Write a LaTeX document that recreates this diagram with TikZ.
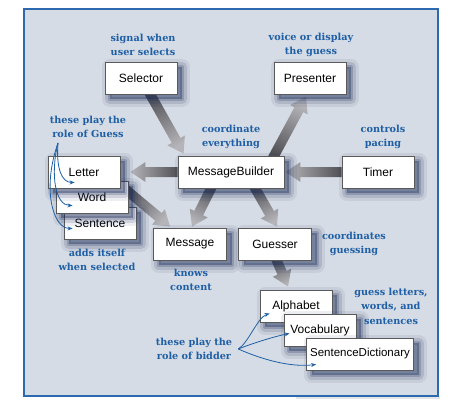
\documentclass[tikz,border=0pt]{standalone}
\usepackage{fontspec}
\setmainfont{Liberation Sans}
\newfontfamily\labelfont{DejaVu Serif}
\usetikzlibrary{shadows,calc,arrows.meta}
\definecolor{panelfill}{RGB}{214,220,229}
\definecolor{panelblue}{RGB}{45,105,175}
\definecolor{labelblue}{RGB}{30,95,165}
\definecolor{boxborder}{RGB}{90,90,90}
\definecolor{shadowcol}{RGB}{30,45,90}
\definecolor{arrowdark}{RGB}{80,80,85}
\definecolor{arrowlight}{RGB}{180,180,185}
\pgfdeclarelayer{panel}
\pgfdeclarelayer{arrows}
\pgfsetlayers{panel,arrows,main}
\tikzset{
  softshadow/.style={
    general shadow={fill=shadowcol, draw=shadowcol, line width=16pt, line join=round, opacity=0.08, shadow xshift=5pt, shadow yshift=-5pt},
    general shadow={fill=shadowcol, draw=shadowcol, line width=10pt, line join=round, opacity=0.14, shadow xshift=5pt, shadow yshift=-5pt},
    general shadow={fill=shadowcol, draw=shadowcol, line width=4pt, line join=round, opacity=0.22, shadow xshift=5pt, shadow yshift=-5pt}
  },
  box/.style={softshadow, draw=boxborder, line width=0.9pt, fill=white,
    minimum width=72pt, minimum height=32pt, inner sep=2pt,
    font=\fontsize{12}{14}\selectfont},
  lbl/.style={text=labelblue, font=\labelfont\bfseries\fontsize{9.7}{14.5}\selectfont,
    align=center, inner sep=0pt},
  guessarrow/.style={draw=labelblue, line width=0.8pt, -{Stealth[length=5pt,width=4pt]}},
  bigarrowstyle/.style={left color=arrowdark, right color=arrowlight}
}
\newcommand\bigarrow[2]{%
  \shade[bigarrowstyle] let \p1=#1, \p2=#2,
    \n1={atan2(\y2-\y1,\x2-\x1)}, \n2={veclen(\x2-\x1,\y2-\y1)}, \n3={\n1+90} in
    [shading angle=\n3, shift={(\p1)}, rotate=\n1]
    (0pt,-5pt) -- ({\n2-15pt},-5pt) -- ({\n2-15pt},-10pt) -- ({\n2+0pt},0pt)
    -- ({\n2-15pt},10pt) -- ({\n2-15pt},5pt) -- (0pt,5pt) -- cycle;}
\begin{document}
\begin{tikzpicture}[x=1pt,y=-1pt]
\useasboundingbox (0,0) rectangle (450,413);
\begin{pgfonlayer}{panel}
  \fill[black!10] (296,396) rectangle (440,399);
  \draw[fill=panelfill, draw=panelblue, line width=1.5pt] (24,9) rectangle (438,396);
\end{pgfonlayer}

% boxes
\node[box] (sel) at (141,78) {Selector};
\node[box] (pres) at (310,78) {Presenter};
\node[box, minimum width=106pt] (mb) at (231,172) {MessageBuilder};
\node[box] (timer) at (378,172) {Timer};
\node[box] (sent) at (100,223) {Sentence};
\node[box] (word) at (92,197) {Word};
\node[box] (letter) at (84,172) {Letter};
\node[box, minimum width=73pt] (msg) at (190,244) {Message};
\node[box, minimum width=73pt] (guess) at (275,244) {Guesser};
\node[box] (alpha) at (296,306) {Alphabet};
\node[box] (vocab) at (320,330) {Vocabulary};
\node[box, minimum width=107pt, inner sep=0pt, font=\fontsize{11.5}{14}\selectfont] (sdict) at (360,354) {SentenceDictionary};

% big arrows
\begin{pgfonlayer}{arrows}
  \bigarrow{([xshift=7pt,yshift=4pt]sel.south)}{([xshift=6pt,yshift=2pt]mb.north west)}
  \bigarrow{([xshift=41pt,yshift=-4pt]mb.north)}{([xshift=-4pt,yshift=-2pt]pres.south)}
  \bigarrow{(mb.west)}{([xshift=10pt]letter.east)}
  \bigarrow{(timer.west)}{([xshift=1pt]mb.east)}
  \bigarrow{([xshift=-4pt,yshift=-8pt]word.north east)}{([xshift=17pt,yshift=1pt]msg.north west)}
  \bigarrow{([xshift=-18pt,yshift=4pt]mb.south)}{([xshift=2pt,yshift=1pt]msg.north)}
  \bigarrow{([xshift=22pt,yshift=4pt]mb.south)}{([xshift=2pt,yshift=1pt]guess.north)}
  \bigarrow{([yshift=4pt]guess.south)}{([xshift=-8pt,yshift=3pt]alpha.north)}
\end{pgfonlayer}

% labels
\node[lbl] (l1) at (143,45) {signal when\\user selects};
\node[lbl] (l2) at (311,45) {voice or display\\the guess};
\node[lbl] (l3) at (88,127) {these play the\\role of Guess};
\node[lbl] (l4) at (231,137) {coordinate\\everything};
\node[lbl] (l5) at (383,137) {controls\\pacing};
\node[lbl] (l6) at (97,260) {adds itself\\when selected};
\node[lbl] (l7) at (191,280) {knows\\content};
\node[lbl] (l8) at (354,244) {coordinates\\guessing};
\node[lbl] (l9) at (391,306) {guess letters,\\words, and\\sentences};
\node[lbl] (l10) at (194,349) {these play the\\role of bidder};

% thin blue arrows
\coordinate (gs) at (58,143);
\coordinate (bs) at ([xshift=6pt]l10.east);
\draw[guessarrow] (gs) .. controls +(-2,25) and +(-13,0) .. ([xshift=27pt,yshift=6pt]letter.south west);
\draw[guessarrow] (gs) .. controls +(-8,32) and +(-17,0) .. ([xshift=17pt,yshift=8pt]word.south west);
\draw[guessarrow] (gs) .. controls +(-16,45) and +(-20,0) .. ([xshift=9pt,yshift=11pt]sent.south west);
\draw[guessarrow] (bs) .. controls +(10,-6) and +(-12,4) .. ([xshift=10pt,yshift=9pt]alpha.south west);
\draw[guessarrow] (bs) .. controls +(15,-6) and +(-15,3) .. ([xshift=6pt,yshift=13pt]vocab.south west);
\draw[guessarrow] (bs) .. controls +(25,11) and +(-25,3) .. ([xshift=10pt,yshift=6pt]sdict.south west);
\end{tikzpicture}
\end{document}
